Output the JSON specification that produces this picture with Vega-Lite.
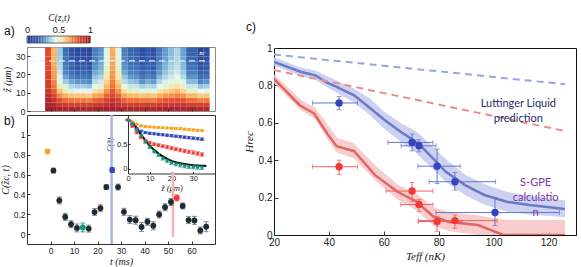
{
"$schema": "https://vega.github.io/schema/vega-lite/v6.json",
"padding": {"left": -1, "top": 12, "right": 2, "bottom": 0},
"config": {
 "font": "Liberation Sans",
 "view": {"stroke": "#333", "strokeWidth": 1},
 "axis": {"domain": false, "grid": false, "labelOverlap": false, "labelFlush": false, "labelFont": "Liberation Sans", "labelColor": "#222", "tickColor": "#333", "titleFont": "Liberation Serif", "titleFontStyle": "italic", "titleFontWeight": "normal", "titleColor": "#222", "labelFontSize": 8.5, "titleFontSize": 10},
 "title": {"font": "Liberation Sans", "fontWeight": "normal", "fontSize": 12, "color": "#111", "frame": "group"}
},
"datasets": {
 "cbar": [{"v":0.0125},{"v":0.0375},{"v":0.0625},{"v":0.0875},{"v":0.1125},{"v":0.1375},{"v":0.1625},{"v":0.1875},{"v":0.2125},{"v":0.2375},{"v":0.2625},{"v":0.2875},{"v":0.3125},{"v":0.3375},{"v":0.3625},{"v":0.3875},{"v":0.4125},{"v":0.4375},{"v":0.4625},{"v":0.4875},{"v":0.5125},{"v":0.5375},{"v":0.5625},{"v":0.5875},{"v":0.6125},{"v":0.6375},{"v":0.6625},{"v":0.6875},{"v":0.7125},{"v":0.7375},{"v":0.7625},{"v":0.7875},{"v":0.8125},{"v":0.8375},{"v":0.8625},{"v":0.8875},{"v":0.9125},{"v":0.9375},{"v":0.9625},{"v":0.9875}],
 "heat": [
{"t":-1.25,"z":1.25,"c":0.99},{"t":-1.25,"z":3.75,"c":0.97},{"t":-1.25,"z":6.25,"c":0.95},{"t":-1.25,"z":8.75,"c":0.93},{"t":-1.25,"z":11.25,"c":0.90},{"t":-1.25,"z":13.75,"c":0.88},{"t":-1.25,"z":16.25,"c":0.87},{"t":-1.25,"z":18.75,"c":0.86},{"t":-1.25,"z":21.25,"c":0.85},{"t":-1.25,"z":23.75,"c":0.84},{"t":-1.25,"z":26.25,"c":0.84},{"t":-1.25,"z":28.75,"c":0.84},{"t":-1.25,"z":31.25,"c":0.83},{"t":-1.25,"z":33.75,"c":0.83},
{"t":1.25,"z":1.25,"c":0.98},{"t":1.25,"z":3.75,"c":0.95},{"t":1.25,"z":6.25,"c":0.90},{"t":1.25,"z":8.75,"c":0.85},{"t":1.25,"z":11.25,"c":0.79},{"t":1.25,"z":13.75,"c":0.75},{"t":1.25,"z":16.25,"c":0.72},{"t":1.25,"z":18.75,"c":0.69},{"t":1.25,"z":21.25,"c":0.68},{"t":1.25,"z":23.75,"c":0.67},{"t":1.25,"z":26.25,"c":0.66},{"t":1.25,"z":28.75,"c":0.65},{"t":1.25,"z":31.25,"c":0.65},{"t":1.25,"z":33.75,"c":0.64},
{"t":3.75,"z":1.25,"c":0.97},{"t":3.75,"z":3.75,"c":0.90},{"t":3.75,"z":6.25,"c":0.82},{"t":3.75,"z":8.75,"c":0.72},{"t":3.75,"z":11.25,"c":0.62},{"t":3.75,"z":13.75,"c":0.54},{"t":3.75,"z":16.25,"c":0.49},{"t":3.75,"z":18.75,"c":0.44},{"t":3.75,"z":21.25,"c":0.41},{"t":3.75,"z":23.75,"c":0.39},{"t":3.75,"z":26.25,"c":0.37},{"t":3.75,"z":28.75,"c":0.36},{"t":3.75,"z":31.25,"c":0.35},{"t":3.75,"z":33.75,"c":0.35},
{"t":6.25,"z":1.25,"c":0.96},{"t":6.25,"z":3.75,"c":0.88},{"t":6.25,"z":6.25,"c":0.77},{"t":6.25,"z":8.75,"c":0.65},{"t":6.25,"z":11.25,"c":0.53},{"t":6.25,"z":13.75,"c":0.43},{"t":6.25,"z":16.25,"c":0.35},{"t":6.25,"z":18.75,"c":0.29},{"t":6.25,"z":21.25,"c":0.25},{"t":6.25,"z":23.75,"c":0.23},{"t":6.25,"z":26.25,"c":0.21},{"t":6.25,"z":28.75,"c":0.19},{"t":6.25,"z":31.25,"c":0.19},{"t":6.25,"z":33.75,"c":0.18},
{"t":8.75,"z":1.25,"c":0.96},{"t":8.75,"z":3.75,"c":0.87},{"t":8.75,"z":6.25,"c":0.75},{"t":8.75,"z":8.75,"c":0.62},{"t":8.75,"z":11.25,"c":0.49},{"t":8.75,"z":13.75,"c":0.38},{"t":8.75,"z":16.25,"c":0.30},{"t":8.75,"z":18.75,"c":0.24},{"t":8.75,"z":21.25,"c":0.19},{"t":8.75,"z":23.75,"c":0.16},{"t":8.75,"z":26.25,"c":0.15},{"t":8.75,"z":28.75,"c":0.13},{"t":8.75,"z":31.25,"c":0.12},{"t":8.75,"z":33.75,"c":0.11},
{"t":11.25,"z":1.25,"c":0.95},{"t":11.25,"z":3.75,"c":0.86},{"t":11.25,"z":6.25,"c":0.74},{"t":11.25,"z":8.75,"c":0.61},{"t":11.25,"z":11.25,"c":0.46},{"t":11.25,"z":13.75,"c":0.35},{"t":11.25,"z":16.25,"c":0.27},{"t":11.25,"z":18.75,"c":0.20},{"t":11.25,"z":21.25,"c":0.15},{"t":11.25,"z":23.75,"c":0.13},{"t":11.25,"z":26.25,"c":0.11},{"t":11.25,"z":28.75,"c":0.09},{"t":11.25,"z":31.25,"c":0.08},{"t":11.25,"z":33.75,"c":0.07},
{"t":13.75,"z":1.25,"c":0.95},{"t":13.75,"z":3.75,"c":0.86},{"t":13.75,"z":6.25,"c":0.74},{"t":13.75,"z":8.75,"c":0.61},{"t":13.75,"z":11.25,"c":0.47},{"t":13.75,"z":13.75,"c":0.36},{"t":13.75,"z":16.25,"c":0.27},{"t":13.75,"z":18.75,"c":0.21},{"t":13.75,"z":21.25,"c":0.16},{"t":13.75,"z":23.75,"c":0.14},{"t":13.75,"z":26.25,"c":0.12},{"t":13.75,"z":28.75,"c":0.10},{"t":13.75,"z":31.25,"c":0.09},{"t":13.75,"z":33.75,"c":0.08},
{"t":16.25,"z":1.25,"c":0.95},{"t":16.25,"z":3.75,"c":0.86},{"t":16.25,"z":6.25,"c":0.73},{"t":16.25,"z":8.75,"c":0.60},{"t":16.25,"z":11.25,"c":0.46},{"t":16.25,"z":13.75,"c":0.34},{"t":16.25,"z":16.25,"c":0.26},{"t":16.25,"z":18.75,"c":0.19},{"t":16.25,"z":21.25,"c":0.15},{"t":16.25,"z":23.75,"c":0.12},{"t":16.25,"z":26.25,"c":0.10},{"t":16.25,"z":28.75,"c":0.08},{"t":16.25,"z":31.25,"c":0.07},{"t":16.25,"z":33.75,"c":0.06},
{"t":18.75,"z":1.25,"c":0.96},{"t":18.75,"z":3.75,"c":0.88},{"t":18.75,"z":6.25,"c":0.78},{"t":18.75,"z":8.75,"c":0.67},{"t":18.75,"z":11.25,"c":0.56},{"t":18.75,"z":13.75,"c":0.46},{"t":18.75,"z":16.25,"c":0.39},{"t":18.75,"z":18.75,"c":0.34},{"t":18.75,"z":21.25,"c":0.30},{"t":18.75,"z":23.75,"c":0.27},{"t":18.75,"z":26.25,"c":0.26},{"t":18.75,"z":28.75,"c":0.24},{"t":18.75,"z":31.25,"c":0.24},{"t":18.75,"z":33.75,"c":0.23},
{"t":21.25,"z":1.25,"c":0.96},{"t":21.25,"z":3.75,"c":0.89},{"t":21.25,"z":6.25,"c":0.79},{"t":21.25,"z":8.75,"c":0.69},{"t":21.25,"z":11.25,"c":0.58},{"t":21.25,"z":13.75,"c":0.49},{"t":21.25,"z":16.25,"c":0.42},{"t":21.25,"z":18.75,"c":0.37},{"t":21.25,"z":21.25,"c":0.33},{"t":21.25,"z":23.75,"c":0.31},{"t":21.25,"z":26.25,"c":0.30},{"t":21.25,"z":28.75,"c":0.28},{"t":21.25,"z":31.25,"c":0.27},{"t":21.25,"z":33.75,"c":0.27},
{"t":23.75,"z":1.25,"c":0.97},{"t":23.75,"z":3.75,"c":0.92},{"t":23.75,"z":6.25,"c":0.85},{"t":23.75,"z":8.75,"c":0.78},{"t":23.75,"z":11.25,"c":0.70},{"t":23.75,"z":13.75,"c":0.63},{"t":23.75,"z":16.25,"c":0.59},{"t":23.75,"z":18.75,"c":0.55},{"t":23.75,"z":21.25,"c":0.52},{"t":23.75,"z":23.75,"c":0.51},{"t":23.75,"z":26.25,"c":0.50},{"t":23.75,"z":28.75,"c":0.49},{"t":23.75,"z":31.25,"c":0.48},{"t":23.75,"z":33.75,"c":0.48},
{"t":26.25,"z":1.25,"c":0.98},{"t":26.25,"z":3.75,"c":0.95},{"t":26.25,"z":6.25,"c":0.90},{"t":26.25,"z":8.75,"c":0.85},{"t":26.25,"z":11.25,"c":0.80},{"t":26.25,"z":13.75,"c":0.76},{"t":26.25,"z":16.25,"c":0.73},{"t":26.25,"z":18.75,"c":0.70},{"t":26.25,"z":21.25,"c":0.69},{"t":26.25,"z":23.75,"c":0.67},{"t":26.25,"z":26.25,"c":0.67},{"t":26.25,"z":28.75,"c":0.66},{"t":26.25,"z":31.25,"c":0.66},{"t":26.25,"z":33.75,"c":0.65},
{"t":28.75,"z":1.25,"c":0.97},{"t":28.75,"z":3.75,"c":0.92},{"t":28.75,"z":6.25,"c":0.85},{"t":28.75,"z":8.75,"c":0.78},{"t":28.75,"z":11.25,"c":0.70},{"t":28.75,"z":13.75,"c":0.63},{"t":28.75,"z":16.25,"c":0.59},{"t":28.75,"z":18.75,"c":0.55},{"t":28.75,"z":21.25,"c":0.52},{"t":28.75,"z":23.75,"c":0.51},{"t":28.75,"z":26.25,"c":0.50},{"t":28.75,"z":28.75,"c":0.49},{"t":28.75,"z":31.25,"c":0.48},{"t":28.75,"z":33.75,"c":0.48},
{"t":31.25,"z":1.25,"c":0.96},{"t":31.25,"z":3.75,"c":0.88},{"t":31.25,"z":6.25,"c":0.78},{"t":31.25,"z":8.75,"c":0.67},{"t":31.25,"z":11.25,"c":0.56},{"t":31.25,"z":13.75,"c":0.46},{"t":31.25,"z":16.25,"c":0.39},{"t":31.25,"z":18.75,"c":0.34},{"t":31.25,"z":21.25,"c":0.30},{"t":31.25,"z":23.75,"c":0.27},{"t":31.25,"z":26.25,"c":0.26},{"t":31.25,"z":28.75,"c":0.24},{"t":31.25,"z":31.25,"c":0.24},{"t":31.25,"z":33.75,"c":0.23},
{"t":33.75,"z":1.25,"c":0.96},{"t":33.75,"z":3.75,"c":0.87},{"t":33.75,"z":6.25,"c":0.76},{"t":33.75,"z":8.75,"c":0.64},{"t":33.75,"z":11.25,"c":0.52},{"t":33.75,"z":13.75,"c":0.41},{"t":33.75,"z":16.25,"c":0.34},{"t":33.75,"z":18.75,"c":0.28},{"t":33.75,"z":21.25,"c":0.24},{"t":33.75,"z":23.75,"c":0.21},{"t":33.75,"z":26.25,"c":0.19},{"t":33.75,"z":28.75,"c":0.18},{"t":33.75,"z":31.25,"c":0.17},{"t":33.75,"z":33.75,"c":0.16},
{"t":36.25,"z":1.25,"c":0.96},{"t":36.25,"z":3.75,"c":0.87},{"t":36.25,"z":6.25,"c":0.76},{"t":36.25,"z":8.75,"c":0.64},{"t":36.25,"z":11.25,"c":0.51},{"t":36.25,"z":13.75,"c":0.41},{"t":36.25,"z":16.25,"c":0.33},{"t":36.25,"z":18.75,"c":0.27},{"t":36.25,"z":21.25,"c":0.23},{"t":36.25,"z":23.75,"c":0.20},{"t":36.25,"z":26.25,"c":0.18},{"t":36.25,"z":28.75,"c":0.17},{"t":36.25,"z":31.25,"c":0.16},{"t":36.25,"z":33.75,"c":0.15},
{"t":38.75,"z":1.25,"c":0.95},{"t":38.75,"z":3.75,"c":0.86},{"t":38.75,"z":6.25,"c":0.74},{"t":38.75,"z":8.75,"c":0.61},{"t":38.75,"z":11.25,"c":0.47},{"t":38.75,"z":13.75,"c":0.36},{"t":38.75,"z":16.25,"c":0.27},{"t":38.75,"z":18.75,"c":0.21},{"t":38.75,"z":21.25,"c":0.16},{"t":38.75,"z":23.75,"c":0.14},{"t":38.75,"z":26.25,"c":0.12},{"t":38.75,"z":28.75,"c":0.10},{"t":38.75,"z":31.25,"c":0.09},{"t":38.75,"z":33.75,"c":0.08},
{"t":41.25,"z":1.25,"c":0.96},{"t":41.25,"z":3.75,"c":0.87},{"t":41.25,"z":6.25,"c":0.75},{"t":41.25,"z":8.75,"c":0.63},{"t":41.25,"z":11.25,"c":0.50},{"t":41.25,"z":13.75,"c":0.39},{"t":41.25,"z":16.25,"c":0.31},{"t":41.25,"z":18.75,"c":0.25},{"t":41.25,"z":21.25,"c":0.21},{"t":41.25,"z":23.75,"c":0.18},{"t":41.25,"z":26.25,"c":0.16},{"t":41.25,"z":28.75,"c":0.15},{"t":41.25,"z":31.25,"c":0.14},{"t":41.25,"z":33.75,"c":0.13},
{"t":43.75,"z":1.25,"c":0.95},{"t":43.75,"z":3.75,"c":0.86},{"t":43.75,"z":6.25,"c":0.74},{"t":43.75,"z":8.75,"c":0.61},{"t":43.75,"z":11.25,"c":0.48},{"t":43.75,"z":13.75,"c":0.37},{"t":43.75,"z":16.25,"c":0.28},{"t":43.75,"z":18.75,"c":0.22},{"t":43.75,"z":21.25,"c":0.17},{"t":43.75,"z":23.75,"c":0.14},{"t":43.75,"z":26.25,"c":0.13},{"t":43.75,"z":28.75,"c":0.11},{"t":43.75,"z":31.25,"c":0.10},{"t":43.75,"z":33.75,"c":0.09},
{"t":46.25,"z":1.25,"c":0.96},{"t":46.25,"z":3.75,"c":0.88},{"t":46.25,"z":6.25,"c":0.78},{"t":46.25,"z":8.75,"c":0.66},{"t":46.25,"z":11.25,"c":0.54},{"t":46.25,"z":13.75,"c":0.45},{"t":46.25,"z":16.25,"c":0.38},{"t":46.25,"z":18.75,"c":0.32},{"t":46.25,"z":21.25,"c":0.28},{"t":46.25,"z":23.75,"c":0.26},{"t":46.25,"z":26.25,"c":0.24},{"t":46.25,"z":28.75,"c":0.22},{"t":46.25,"z":31.25,"c":0.22},{"t":46.25,"z":33.75,"c":0.21},
{"t":48.75,"z":1.25,"c":0.96},{"t":48.75,"z":3.75,"c":0.89},{"t":48.75,"z":6.25,"c":0.80},{"t":48.75,"z":8.75,"c":0.69},{"t":48.75,"z":11.25,"c":0.58},{"t":48.75,"z":13.75,"c":0.50},{"t":48.75,"z":16.25,"c":0.43},{"t":48.75,"z":18.75,"c":0.38},{"t":48.75,"z":21.25,"c":0.34},{"t":48.75,"z":23.75,"c":0.32},{"t":48.75,"z":26.25,"c":0.31},{"t":48.75,"z":28.75,"c":0.29},{"t":48.75,"z":31.25,"c":0.28},{"t":48.75,"z":33.75,"c":0.28},
{"t":51.25,"z":1.25,"c":0.97},{"t":51.25,"z":3.75,"c":0.90},{"t":51.25,"z":6.25,"c":0.81},{"t":51.25,"z":8.75,"c":0.71},{"t":51.25,"z":11.25,"c":0.61},{"t":51.25,"z":13.75,"c":0.53},{"t":51.25,"z":16.25,"c":0.47},{"t":51.25,"z":18.75,"c":0.42},{"t":51.25,"z":21.25,"c":0.39},{"t":51.25,"z":23.75,"c":0.37},{"t":51.25,"z":26.25,"c":0.35},{"t":51.25,"z":28.75,"c":0.34},{"t":51.25,"z":31.25,"c":0.33},{"t":51.25,"z":33.75,"c":0.33},
{"t":53.75,"z":1.25,"c":0.97},{"t":53.75,"z":3.75,"c":0.90},{"t":53.75,"z":6.25,"c":0.82},{"t":53.75,"z":8.75,"c":0.73},{"t":53.75,"z":11.25,"c":0.64},{"t":53.75,"z":13.75,"c":0.56},{"t":53.75,"z":16.25,"c":0.50},{"t":53.75,"z":18.75,"c":0.46},{"t":53.75,"z":21.25,"c":0.42},{"t":53.75,"z":23.75,"c":0.40},{"t":53.75,"z":26.25,"c":0.39},{"t":53.75,"z":28.75,"c":0.38},{"t":53.75,"z":31.25,"c":0.37},{"t":53.75,"z":33.75,"c":0.37},
{"t":56.25,"z":1.25,"c":0.96},{"t":56.25,"z":3.75,"c":0.89},{"t":56.25,"z":6.25,"c":0.80},{"t":56.25,"z":8.75,"c":0.70},{"t":56.25,"z":11.25,"c":0.59},{"t":56.25,"z":13.75,"c":0.50},{"t":56.25,"z":16.25,"c":0.44},{"t":56.25,"z":18.75,"c":0.39},{"t":56.25,"z":21.25,"c":0.35},{"t":56.25,"z":23.75,"c":0.33},{"t":56.25,"z":26.25,"c":0.32},{"t":56.25,"z":28.75,"c":0.30},{"t":56.25,"z":31.25,"c":0.29},{"t":56.25,"z":33.75,"c":0.29},
{"t":58.75,"z":1.25,"c":0.96},{"t":58.75,"z":3.75,"c":0.87},{"t":58.75,"z":6.25,"c":0.76},{"t":58.75,"z":8.75,"c":0.64},{"t":58.75,"z":11.25,"c":0.51},{"t":58.75,"z":13.75,"c":0.41},{"t":58.75,"z":16.25,"c":0.33},{"t":58.75,"z":18.75,"c":0.27},{"t":58.75,"z":21.25,"c":0.23},{"t":58.75,"z":23.75,"c":0.20},{"t":58.75,"z":26.25,"c":0.18},{"t":58.75,"z":28.75,"c":0.17},{"t":58.75,"z":31.25,"c":0.16},{"t":58.75,"z":33.75,"c":0.15},
{"t":61.25,"z":1.25,"c":0.96},{"t":61.25,"z":3.75,"c":0.87},{"t":61.25,"z":6.25,"c":0.76},{"t":61.25,"z":8.75,"c":0.64},{"t":61.25,"z":11.25,"c":0.51},{"t":61.25,"z":13.75,"c":0.41},{"t":61.25,"z":16.25,"c":0.33},{"t":61.25,"z":18.75,"c":0.27},{"t":61.25,"z":21.25,"c":0.23},{"t":61.25,"z":23.75,"c":0.20},{"t":61.25,"z":26.25,"c":0.18},{"t":61.25,"z":28.75,"c":0.17},{"t":61.25,"z":31.25,"c":0.16},{"t":61.25,"z":33.75,"c":0.15},
{"t":63.75,"z":1.25,"c":0.95},{"t":63.75,"z":3.75,"c":0.86},{"t":63.75,"z":6.25,"c":0.73},{"t":63.75,"z":8.75,"c":0.60},{"t":63.75,"z":11.25,"c":0.45},{"t":63.75,"z":13.75,"c":0.34},{"t":63.75,"z":16.25,"c":0.25},{"t":63.75,"z":18.75,"c":0.18},{"t":63.75,"z":21.25,"c":0.14},{"t":63.75,"z":23.75,"c":0.11},{"t":63.75,"z":26.25,"c":0.09},{"t":63.75,"z":28.75,"c":0.07},{"t":63.75,"z":31.25,"c":0.06},{"t":63.75,"z":33.75,"c":0.05},
{"t":66.25,"z":1.25,"c":0.95},{"t":66.25,"z":3.75,"c":0.86},{"t":66.25,"z":6.25,"c":0.74},{"t":66.25,"z":8.75,"c":0.61},{"t":66.25,"z":11.25,"c":0.47},{"t":66.25,"z":13.75,"c":0.36},{"t":66.25,"z":16.25,"c":0.27},{"t":66.25,"z":18.75,"c":0.21},{"t":66.25,"z":21.25,"c":0.16},{"t":66.25,"z":23.75,"c":0.14},{"t":66.25,"z":26.25,"c":0.12},{"t":66.25,"z":28.75,"c":0.10},{"t":66.25,"z":31.25,"c":0.09},{"t":66.25,"z":33.75,"c":0.08}
 ],
 "bpts": [
{"t":-1.25,"c":0.834,"e":0.012,"g":"o"},{"t":1.25,"c":0.64,"e":0.025,"g":"k"},{"t":3.75,"c":0.339,"e":0.035,"g":"k"},{"t":6.25,"c":0.173,"e":0.035,"g":"k"},{"t":8.75,"c":0.099,"e":0.035,"g":"k"},{"t":11.25,"c":0.062,"e":0.04,"g":"k"},{"t":13.75,"c":0.067,"e":0.045,"g":"t"},{"t":16.25,"c":0.055,"e":0.035,"g":"k"},{"t":18.75,"c":0.222,"e":0.035,"g":"k"},{"t":21.25,"c":0.261,"e":0.035,"g":"k"},{"t":23.75,"c":0.474,"e":0.025,"g":"k"},{"t":26.25,"c":0.646,"e":0.025,"g":"b"},{"t":28.75,"c":0.474,"e":0.03,"g":"k"},{"t":31.25,"c":0.224,"e":0.035,"g":"k"},{"t":33.75,"c":0.146,"e":0.04,"g":"k"},{"t":36.25,"c":0.14,"e":0.04,"g":"k"},{"t":38.75,"c":0.071,"e":0.045,"g":"k"},{"t":41.25,"c":0.124,"e":0.035,"g":"k"},{"t":43.75,"c":0.084,"e":0.04,"g":"k"},{"t":46.25,"c":0.197,"e":0.035,"g":"k"},{"t":48.75,"c":0.27,"e":0.035,"g":"k"},{"t":51.25,"c":0.323,"e":0.035,"g":"k"},{"t":53.75,"c":0.365,"e":0.03,"g":"r"},{"t":56.25,"c":0.283,"e":0.03,"g":"k"},{"t":58.75,"c":0.141,"e":0.035,"g":"k"},{"t":61.25,"c":0.138,"e":0.04,"g":"k"},{"t":63.75,"c":0.037,"e":0.035,"g":"k"},{"t":66.25,"c":0.074,"e":0.05,"g":"k"}
 ],
 "inset": [
{"z":0,"v":1.0,"e":0.01,"g":"o"},{"z":2,"v":0.96,"e":0.012,"g":"o"},{"z":4,"v":0.91,"e":0.012,"g":"o"},{"z":6,"v":0.88,"e":0.014,"g":"o"},{"z":8,"v":0.865,"e":0.015,"g":"o"},{"z":10,"v":0.855,"e":0.015,"g":"o"},{"z":12,"v":0.85,"e":0.015,"g":"o"},{"z":14,"v":0.845,"e":0.016,"g":"o"},{"z":16,"v":0.84,"e":0.016,"g":"o"},{"z":18,"v":0.835,"e":0.017,"g":"o"},{"z":20,"v":0.83,"e":0.017,"g":"o"},{"z":22,"v":0.825,"e":0.018,"g":"o"},{"z":24,"v":0.82,"e":0.018,"g":"o"},{"z":26,"v":0.81,"e":0.019,"g":"o"},{"z":28,"v":0.80,"e":0.02,"g":"o"},{"z":30,"v":0.795,"e":0.02,"g":"o"},{"z":32,"v":0.785,"e":0.02,"g":"o"},{"z":34,"v":0.78,"e":0.02,"g":"o"},
{"z":0,"v":1.0,"e":0.01,"g":"b"},{"z":2,"v":0.91,"e":0.015,"g":"b"},{"z":4,"v":0.82,"e":0.015,"g":"b"},{"z":6,"v":0.77,"e":0.018,"g":"b"},{"z":8,"v":0.74,"e":0.018,"g":"b"},{"z":10,"v":0.725,"e":0.02,"g":"b"},{"z":12,"v":0.715,"e":0.02,"g":"b"},{"z":14,"v":0.705,"e":0.02,"g":"b"},{"z":16,"v":0.695,"e":0.02,"g":"b"},{"z":18,"v":0.685,"e":0.022,"g":"b"},{"z":20,"v":0.675,"e":0.022,"g":"b"},{"z":22,"v":0.665,"e":0.022,"g":"b"},{"z":24,"v":0.655,"e":0.024,"g":"b"},{"z":26,"v":0.645,"e":0.024,"g":"b"},{"z":28,"v":0.635,"e":0.025,"g":"b"},{"z":30,"v":0.625,"e":0.025,"g":"b"},{"z":32,"v":0.615,"e":0.025,"g":"b"},{"z":34,"v":0.605,"e":0.025,"g":"b"},
{"z":0,"v":1.0,"e":0.01,"g":"r"},{"z":2,"v":0.87,"e":0.02,"g":"r"},{"z":4,"v":0.74,"e":0.025,"g":"r"},{"z":6,"v":0.64,"e":0.025,"g":"r"},{"z":8,"v":0.57,"e":0.028,"g":"r"},{"z":10,"v":0.53,"e":0.028,"g":"r"},{"z":12,"v":0.50,"e":0.03,"g":"r"},{"z":14,"v":0.48,"e":0.03,"g":"r"},{"z":16,"v":0.46,"e":0.03,"g":"r"},{"z":18,"v":0.44,"e":0.032,"g":"r"},{"z":20,"v":0.42,"e":0.032,"g":"r"},{"z":22,"v":0.40,"e":0.034,"g":"r"},{"z":24,"v":0.38,"e":0.034,"g":"r"},{"z":26,"v":0.36,"e":0.035,"g":"r"},{"z":28,"v":0.345,"e":0.035,"g":"r"},{"z":30,"v":0.33,"e":0.036,"g":"r"},{"z":32,"v":0.31,"e":0.036,"g":"r"},{"z":34,"v":0.29,"e":0.036,"g":"r"},
{"z":0,"v":1.0,"e":0.01,"g":"t"},{"z":2,"v":0.93,"e":0.02,"g":"t"},{"z":4,"v":0.80,"e":0.025,"g":"t"},{"z":6,"v":0.67,"e":0.028,"g":"t"},{"z":8,"v":0.55,"e":0.03,"g":"t"},{"z":10,"v":0.44,"e":0.03,"g":"t"},{"z":12,"v":0.35,"e":0.032,"g":"t"},{"z":14,"v":0.28,"e":0.032,"g":"t"},{"z":16,"v":0.21,"e":0.034,"g":"t"},{"z":18,"v":0.16,"e":0.034,"g":"t"},{"z":20,"v":0.12,"e":0.035,"g":"t"},{"z":22,"v":0.09,"e":0.035,"g":"t"},{"z":24,"v":0.07,"e":0.036,"g":"t"},{"z":26,"v":0.05,"e":0.036,"g":"t"},{"z":28,"v":0.04,"e":0.036,"g":"t"},{"z":30,"v":0.03,"e":0.036,"g":"t"},{"z":32,"v":0.025,"e":0.036,"g":"t"},{"z":34,"v":0.02,"e":0.036,"g":"t"}
 ],
 "black": [{"z":0,"v":1},{"z":2,"v":0.95},{"z":4,"v":0.83},{"z":6,"v":0.70},{"z":8,"v":0.58},{"z":10,"v":0.47},{"z":12,"v":0.385},{"z":14,"v":0.31},{"z":16,"v":0.25},{"z":18,"v":0.20},{"z":20,"v":0.16},{"z":22,"v":0.13},{"z":24,"v":0.11},{"z":26,"v":0.095},{"z":28,"v":0.08},{"z":30,"v":0.07},{"z":32,"v":0.065},{"z":34,"v":0.06},{"z":36,"v":0.055}],
 "bandB": [{"T":20,"lo":0.905,"hi":0.95},{"T":30,"lo":0.85,"hi":0.895},{"T":35,"lo":0.83,"hi":0.88},{"T":40,"lo":0.785,"hi":0.845},{"T":43,"lo":0.76,"hi":0.825},{"T":49,"lo":0.71,"hi":0.785},{"T":55,"lo":0.64,"hi":0.73},{"T":60,"lo":0.57,"hi":0.66},{"T":66,"lo":0.50,"hi":0.60},{"T":71,"lo":0.45,"hi":0.56},{"T":73,"lo":0.42,"hi":0.54},{"T":78,"lo":0.35,"hi":0.47},{"T":83,"lo":0.28,"hi":0.40},{"T":90,"lo":0.21,"hi":0.32},{"T":97,"lo":0.16,"hi":0.27},{"T":105,"lo":0.125,"hi":0.23},{"T":113,"lo":0.11,"hi":0.21},{"T":126,"lo":0.095,"hi":0.185}],
 "bandR": [{"T":20,"lo":0.81,"hi":0.86},{"T":30,"lo":0.665,"hi":0.72},{"T":35,"lo":0.62,"hi":0.68},{"T":40,"lo":0.50,"hi":0.58},{"T":43,"lo":0.44,"hi":0.52},{"T":49,"lo":0.41,"hi":0.49},{"T":57,"lo":0.29,"hi":0.37},{"T":65,"lo":0.19,"hi":0.27},{"T":72,"lo":0.13,"hi":0.22},{"T":78,"lo":0.05,"hi":0.15},{"T":84,"lo":0.02,"hi":0.12},{"T":94,"lo":0.0,"hi":0.105},{"T":100,"lo":0.0,"hi":0.09},{"T":104,"lo":0.0,"hi":0.08},{"T":126,"lo":0.0,"hi":0.08}],
 "lineB": [{"T":20,"H":0.925},{"T":30,"H":0.872},{"T":35,"H":0.854},{"T":39.3,"H":0.815},{"T":42.8,"H":0.792},{"T":49.2,"H":0.747},{"T":54.5,"H":0.685},{"T":60.4,"H":0.614},{"T":66.2,"H":0.551},{"T":70.9,"H":0.507},{"T":73.2,"H":0.48},{"T":77.9,"H":0.41},{"T":82.6,"H":0.338},{"T":89.6,"H":0.267},{"T":96.6,"H":0.214},{"T":104.8,"H":0.178},{"T":113,"H":0.16},{"T":126,"H":0.139}],
 "lineR": [{"T":20,"H":0.835},{"T":29.4,"H":0.694},{"T":34.6,"H":0.65},{"T":39.5,"H":0.54},{"T":42.8,"H":0.475},{"T":49.2,"H":0.448},{"T":56.8,"H":0.32},{"T":65,"H":0.231},{"T":72,"H":0.178},{"T":77.9,"H":0.1},{"T":83.7,"H":0.07},{"T":94.3,"H":0.053},{"T":103.6,"H":0.0},{"T":126,"H":0.0}],
 "dash": [{"T":20,"H":0.965,"s":"b"},{"T":126,"H":0.806,"s":"b"},{"T":20,"H":0.882,"s":"r"},{"T":126,"H":0.556,"s":"r"}],
 "ptsC": [
{"T":43.7,"H":0.706,"xlo":34,"xhi":50.4,"ylo":0.67,"yhi":0.74,"s":"b"},
{"T":70.3,"H":0.495,"xlo":61.5,"xhi":77.9,"ylo":0.45,"yhi":0.54,"s":"b"},
{"T":72.8,"H":0.477,"xlo":66.3,"xhi":79,"ylo":0.445,"yhi":0.51,"s":"b"},
{"T":79.4,"H":0.368,"xlo":72.4,"xhi":87.8,"ylo":0.275,"yhi":0.46,"s":"b"},
{"T":85.9,"H":0.285,"xlo":76.5,"xhi":100.7,"ylo":0.24,"yhi":0.335,"s":"b"},
{"T":100.5,"H":0.12,"xlo":79,"xhi":124,"ylo":0.05,"yhi":0.2,"s":"b"},
{"T":43.7,"H":0.365,"xlo":34,"xhi":50.4,"ylo":0.324,"yhi":0.40,"s":"r"},
{"T":70.3,"H":0.235,"xlo":60.8,"xhi":77.9,"ylo":0.178,"yhi":0.281,"s":"r"},
{"T":72.8,"H":0.163,"xlo":66.2,"xhi":77.9,"ylo":0.125,"yhi":0.19,"s":"r"},
{"T":79.4,"H":0.072,"xlo":72.5,"xhi":88.5,"ylo":0.02,"yhi":0.1,"s":"r"},
{"T":85.9,"H":0.077,"xlo":72.7,"xhi":101.3,"ylo":0.036,"yhi":0.107,"s":"r"}
 ]
},
"bounds": "flush",
"spacing": 247,
"hconcat": [
 {"bounds": "flush", "spacing": 4, "vconcat": [
  {"width": 188, "height": 7,
   "view": {"stroke": null},
   "layer": [
    {"data": {"name": "cbar"},
     "mark": "rect",
     "encoding": {
      "x": {"field": "v", "type": "quantitative", "bin": {"step": 0.025, "extent": [0, 1]}, "scale": {"domain": [0, 1], "range": [0, 63]},
            "axis": {"orient": "top", "values": [0, 0.5, 1], "ticks": false, "labelOverlap": false, "labelFontSize": 9, "labelPadding": 2, "format": "~f", "title": "C(z,t)", "titleFontSize": 9.5, "titlePadding": 3}},
      "color": {"field": "v", "type": "quantitative", "scale": {"domain": [0, 0.12, 0.25, 0.35, 0.45, 0.55, 0.65, 0.8, 1], "range": ["#27368f", "#3156a6", "#4f86c2", "#9ccbe4", "#eef4f2", "#fde5a6", "#fbb060", "#e8532f", "#a2182b"]}, "legend": null}
     }},
    {"data": {"values": [{}]},
     "mark": {"type": "rect", "fill": null, "stroke": "#444", "strokeWidth": 0.8},
     "encoding": {"x": {"datum": 0}, "x2": {"datum": 1}}}
   ]},
  {"width": 188, "height": 64,
   "title": {"text": "a)", "anchor": "start", "dx": -23, "offset": 9},
   "view": {"stroke": "#8a8a8a"},
   "layer": [
    {"data": {"name": "heat"},
     "mark": {"type": "rect", "clip": true},
     "encoding": {
      "x": {"field": "t", "type": "quantitative", "bin": {"step": 2.5, "extent": [-2.5, 67.5]}, "scale": {"domain": [-1.8, 67.5]},
            "axis": {"values": [0, 10, 20, 30, 40, 50, 60], "labels": false, "tickSize": -3, "title": null, "zindex": 1}},
      "y": {"field": "z", "type": "quantitative", "bin": {"step": 2.5, "extent": [0, 35]}, "scale": {"domain": [0, 35]},
            "axis": {"values": [0, 10, 20, 30], "labelOverlap": false, "format": "d", "tickSize": -3, "labelPadding": 5, "title": "z̃ (μm)", "titlePadding": 3, "zindex": 1}},
      "color": {"field": "c", "type": "quantitative", "scale": {"domain": [0, 0.12, 0.25, 0.35, 0.45, 0.55, 0.65, 0.8, 1], "range": ["#27368f", "#3156a6", "#4f86c2", "#9ccbe4", "#eef4f2", "#fde5a6", "#fbb060", "#e8532f", "#a2182b"]}, "legend": null}
     }},
    {"data": {"values": [{}]},
     "mark": {"type": "rule", "color": "#e4eaf4", "strokeDash": [6, 4], "strokeWidth": 1.3},
     "encoding": {"y": {"datum": 27.4}}},
    {"data": {"values": [{}]},
     "mark": {"type": "text", "color": "#ffffff", "fontSize": 7, "font": "Liberation Serif", "fontStyle": "italic"},
     "encoding": {"x": {"datum": 64.5}, "y": {"datum": 31.5}, "text": {"value": "z̃c"}}}
   ]},
  {"width": 188, "height": 129,
   "title": {"text": "b)", "anchor": "start", "dx": -23, "dy": 14, "offset": 0},
   "resolve": {"scale": {"x": "independent", "y": "independent"}, "axis": {"x": "independent", "y": "independent"}},
   "layer": [
    {"layer": [
      {"data": {"values": [{}]},
       "mark": {"type": "rule", "color": "#aab4e8", "strokeWidth": 2.5},
       "encoding": {"x": {"datum": 26, "type": "quantitative", "scale": {"domain": [-1.8, 67.5]}, "axis": {"values": [0, 10, 20, 30, 40, 50, 60], "labelOverlap": false, "format": "d", "tickSize": -3, "labelPadding": 5, "title": "t (ms)", "titlePadding": 2}}}},
      {"data": {"values": [{}]},
       "mark": {"type": "rule", "color": "#f5b3b3", "strokeWidth": 2.5},
       "encoding": {"x": {"datum": 52.1, "type": "quantitative", "axis": {"values": [0, 10, 20, 30, 40, 50, 60], "labelOverlap": false, "format": "d", "tickSize": -3, "labelPadding": 5, "title": "t (ms)", "titlePadding": 2}},
                    "y": {"datum": -0.03, "type": "quantitative", "scale": {"domain": [-0.03, 1.163]}, "axis": {"values": [0, 0.2, 0.4, 0.6, 0.8, 1], "labelOverlap": false, "format": "~f", "tickSize": -3, "labelPadding": 5, "title": "C(z̃c, t)", "titlePadding": 3}},
                    "y2": {"datum": 0.62}}},
      {"data": {"name": "bpts"},
       "mark": {"type": "errorbar", "ticks": true, "thickness": 1.1},
       "encoding": {
        "x": {"field": "t", "type": "quantitative", "axis": {"values": [0, 10, 20, 30, 40, 50, 60], "labelOverlap": false, "format": "d", "tickSize": -3, "labelPadding": 5, "title": "t (ms)", "titlePadding": 2}},
        "y": {"field": "c", "type": "quantitative", "axis": {"values": [0, 0.2, 0.4, 0.6, 0.8, 1], "labelOverlap": false, "format": "~f", "tickSize": -3, "labelPadding": 5, "title": "C(z̃c, t)", "titlePadding": 3}},
        "yError": {"field": "e"},
        "color": {"field": "g", "type": "nominal", "scale": {"domain": ["k", "o", "t", "b", "r"], "range": ["#5f696f", "#f7a21b", "#15967f", "#3346c0", "#ee3b36"]}, "legend": null}}},
      {"data": {"name": "bpts"},
       "mark": {"type": "circle", "size": 34, "opacity": 1},
       "encoding": {
        "x": {"field": "t", "type": "quantitative", "axis": {"values": [0, 10, 20, 30, 40, 50, 60], "labelOverlap": false, "format": "d", "tickSize": -3, "labelPadding": 5, "title": "t (ms)", "titlePadding": 2}},
        "y": {"field": "c", "type": "quantitative", "axis": {"values": [0, 0.2, 0.4, 0.6, 0.8, 1], "labelOverlap": false, "format": "~f", "tickSize": -3, "labelPadding": 5, "title": "C(z̃c, t)", "titlePadding": 3}},
        "fill": {"field": "g", "type": "nominal", "scale": {"domain": ["k", "o", "t", "b", "r"], "range": ["#1f2b33", "#f7a21b", "#15967f", "#3346c0", "#ee3b36"]}, "legend": null}}}
    ]},
    {"layer": [
      {"data": {"name": "black"},
       "mark": {"type": "line", "color": "#000000", "strokeWidth": 2, "interpolate": "monotone", "clip": true},
       "encoding": {
        "x": {"field": "z", "type": "quantitative", "scale": {"domain": [0, 35.9], "range": [101, 188]},
              "axis": {"orient": "bottom", "offset": -70.5, "values": [0, 10, 20, 30], "labelOverlap": false, "format": "d", "domain": true, "domainColor": "#333", "tickSize": -2, "labelPadding": 3, "labelFontSize": 7.5, "title": "z̃ (μm)", "titleFontSize": 8.5, "titlePadding": 1}},
        "y": {"field": "v", "type": "quantitative", "scale": {"domain": [-0.033, 1.035], "range": [58.5, 0]},
              "axis": {"orient": "left", "offset": -101, "values": [0, 0.5], "labelOverlap": false, "format": "~f", "domain": true, "domainColor": "#333", "tickSize": -2, "labelPadding": 3, "labelFontSize": 7.5, "title": "C(z̃)", "titleFontSize": 8.5, "titlePadding": 2}}}},
      {"data": {"name": "inset"},
       "mark": {"type": "errorbar", "ticks": true, "thickness": 0.8},
       "encoding": {
        "x": {"field": "z", "type": "quantitative", "axis": {"orient": "bottom", "offset": -70.5, "values": [0, 10, 20, 30], "labelOverlap": false, "format": "d", "domain": true, "domainColor": "#333", "tickSize": -2, "labelPadding": 3, "labelFontSize": 7.5, "title": "z̃ (μm)", "titleFontSize": 8.5, "titlePadding": 1}},
        "y": {"field": "v", "type": "quantitative", "axis": {"orient": "left", "offset": -101, "values": [0, 0.5], "labelOverlap": false, "format": "~f", "domain": true, "domainColor": "#333", "tickSize": -2, "labelPadding": 3, "labelFontSize": 7.5, "title": "C(z̃)", "titleFontSize": 8.5, "titlePadding": 2}},
        "yError": {"field": "e"},
        "color": {"field": "g", "type": "nominal", "scale": {"domain": ["k", "o", "t", "b", "r"], "range": ["#5f696f", "#f7a21b", "#15967f", "#3346c0", "#ee3b36"]}, "legend": null}}},
      {"data": {"name": "inset"},
       "mark": {"type": "circle", "size": 11, "opacity": 1},
       "encoding": {
        "x": {"field": "z", "type": "quantitative", "axis": {"orient": "bottom", "offset": -70.5, "values": [0, 10, 20, 30], "labelOverlap": false, "format": "d", "domain": true, "domainColor": "#333", "tickSize": -2, "labelPadding": 3, "labelFontSize": 7.5, "title": "z̃ (μm)", "titleFontSize": 8.5, "titlePadding": 1}},
        "y": {"field": "v", "type": "quantitative", "axis": {"orient": "left", "offset": -101, "values": [0, 0.5], "labelOverlap": false, "format": "~f", "domain": true, "domainColor": "#333", "tickSize": -2, "labelPadding": 3, "labelFontSize": 7.5, "title": "C(z̃)", "titleFontSize": 8.5, "titlePadding": 2}},
        "fill": {"field": "g", "type": "nominal", "scale": {"domain": ["k", "o", "t", "b", "r"], "range": ["#1f2b33", "#f7a21b", "#15967f", "#3346c0", "#ee3b36"]}, "legend": null}}}
    ]}
   ]}
 ]},
 {"bounds": "flush", "spacing": 11, "vconcat": [
  {"width": 302, "height": 1, "view": {"stroke": null},
   "data": {"values": []}, "mark": "text", "encoding": {}},
  {"width": 302, "height": 187,
   "title": {"text": "c)", "anchor": "start", "dx": -28, "offset": 9},
   "view": {"stroke": "#111"},
   "layer": [
    {"data": {"name": "bandB"},
     "mark": {"type": "area", "color": "#c4caee", "opacity": 0.85, "clip": true},
     "encoding": {
      "x": {"field": "T", "type": "quantitative", "scale": {"domain": [20, 126]},
            "axis": {"values": [20, 40, 60, 80, 100, 120], "labelOverlap": false, "format": "d", "tickSize": -4, "labelPadding": 6, "labelFontSize": 10, "title": "Teff (nK)", "titleFontSize": 11, "titlePadding": 3}},
      "y": {"field": "lo", "type": "quantitative", "scale": {"domain": [0, 1]},
            "axis": {"values": [0, 0.2, 0.4, 0.6, 0.8, 1], "labelOverlap": false, "format": "~f", "tickSize": -4, "labelPadding": 6, "labelFontSize": 10, "title": "Hrec", "titleFontSize": 11, "titlePadding": 4}},
      "y2": {"field": "hi"}}},
    {"data": {"name": "bandR"},
     "mark": {"type": "area", "color": "#f6c0c0", "opacity": 0.8, "clip": true},
     "encoding": {
      "x": {"field": "T", "type": "quantitative", "axis": {"values": [20, 40, 60, 80, 100, 120], "labelOverlap": false, "format": "d", "tickSize": -4, "labelPadding": 6, "labelFontSize": 10, "title": "Teff (nK)", "titleFontSize": 11, "titlePadding": 3}},
      "y": {"field": "lo", "type": "quantitative", "axis": {"values": [0, 0.2, 0.4, 0.6, 0.8, 1], "labelOverlap": false, "format": "~f", "tickSize": -4, "labelPadding": 6, "labelFontSize": 10, "title": "Hrec", "titleFontSize": 11, "titlePadding": 4}},
      "y2": {"field": "hi"}}},
    {"data": {"name": "lineB"},
     "mark": {"type": "line", "color": "#6b79c8", "strokeWidth": 2.5, "clip": true},
     "encoding": {
      "x": {"field": "T", "type": "quantitative", "axis": {"values": [20, 40, 60, 80, 100, 120], "labelOverlap": false, "format": "d", "tickSize": -4, "labelPadding": 6, "labelFontSize": 10, "title": "Teff (nK)", "titleFontSize": 11, "titlePadding": 3}},
      "y": {"field": "H", "type": "quantitative", "axis": {"values": [0, 0.2, 0.4, 0.6, 0.8, 1], "labelOverlap": false, "format": "~f", "tickSize": -4, "labelPadding": 6, "labelFontSize": 10, "title": "Hrec", "titleFontSize": 11, "titlePadding": 4}}}},
    {"data": {"name": "lineR"},
     "mark": {"type": "line", "color": "#e26666", "strokeWidth": 2.5, "clip": true},
     "encoding": {
      "x": {"field": "T", "type": "quantitative", "axis": {"values": [20, 40, 60, 80, 100, 120], "labelOverlap": false, "format": "d", "tickSize": -4, "labelPadding": 6, "labelFontSize": 10, "title": "Teff (nK)", "titleFontSize": 11, "titlePadding": 3}},
      "y": {"field": "H", "type": "quantitative", "axis": {"values": [0, 0.2, 0.4, 0.6, 0.8, 1], "labelOverlap": false, "format": "~f", "tickSize": -4, "labelPadding": 6, "labelFontSize": 10, "title": "Hrec", "titleFontSize": 11, "titlePadding": 4}}}},
    {"data": {"name": "dash"},
     "mark": {"type": "line", "strokeWidth": 2, "strokeDash": [7, 5], "clip": true},
     "encoding": {
      "x": {"field": "T", "type": "quantitative", "axis": {"values": [20, 40, 60, 80, 100, 120], "labelOverlap": false, "format": "d", "tickSize": -4, "labelPadding": 6, "labelFontSize": 10, "title": "Teff (nK)", "titleFontSize": 11, "titlePadding": 3}},
      "y": {"field": "H", "type": "quantitative", "axis": {"values": [0, 0.2, 0.4, 0.6, 0.8, 1], "labelOverlap": false, "format": "~f", "tickSize": -4, "labelPadding": 6, "labelFontSize": 10, "title": "Hrec", "titleFontSize": 11, "titlePadding": 4}},
      "detail": {"field": "s"},
      "stroke": {"field": "s", "type": "nominal", "scale": {"domain": ["b", "r"], "range": ["#97a4e6", "#f08b8b"]}, "legend": null}}},
    {"data": {"name": "ptsC"},
     "mark": {"type": "errorbar", "ticks": true, "thickness": 1},
     "encoding": {
      "x": {"field": "xlo", "type": "quantitative", "axis": {"values": [20, 40, 60, 80, 100, 120], "labelOverlap": false, "format": "d", "tickSize": -4, "labelPadding": 6, "labelFontSize": 10, "title": "Teff (nK)", "titleFontSize": 11, "titlePadding": 3}},
      "x2": {"field": "xhi"},
      "y": {"field": "H", "type": "quantitative", "axis": {"values": [0, 0.2, 0.4, 0.6, 0.8, 1], "labelOverlap": false, "format": "~f", "tickSize": -4, "labelPadding": 6, "labelFontSize": 10, "title": "Hrec", "titleFontSize": 11, "titlePadding": 4}},
      "color": {"field": "s", "type": "nominal", "scale": {"domain": ["b", "r"], "range": ["#6574cf", "#f06060"]}, "legend": null}}},
    {"data": {"name": "ptsC"},
     "mark": {"type": "errorbar", "ticks": true, "thickness": 1},
     "encoding": {
      "x": {"field": "T", "type": "quantitative", "axis": {"values": [20, 40, 60, 80, 100, 120], "labelOverlap": false, "format": "d", "tickSize": -4, "labelPadding": 6, "labelFontSize": 10, "title": "Teff (nK)", "titleFontSize": 11, "titlePadding": 3}},
      "y": {"field": "ylo", "type": "quantitative", "axis": {"values": [0, 0.2, 0.4, 0.6, 0.8, 1], "labelOverlap": false, "format": "~f", "tickSize": -4, "labelPadding": 6, "labelFontSize": 10, "title": "Hrec", "titleFontSize": 11, "titlePadding": 4}},
      "y2": {"field": "yhi"},
      "color": {"field": "s", "type": "nominal", "scale": {"domain": ["b", "r"], "range": ["#6574cf", "#f06060"]}, "legend": null}}},
    {"data": {"name": "ptsC"},
     "mark": {"type": "circle", "size": 55, "opacity": 1},
     "encoding": {
      "x": {"field": "T", "type": "quantitative", "axis": {"values": [20, 40, 60, 80, 100, 120], "labelOverlap": false, "format": "d", "tickSize": -4, "labelPadding": 6, "labelFontSize": 10, "title": "Teff (nK)", "titleFontSize": 11, "titlePadding": 3}},
      "y": {"field": "H", "type": "quantitative", "axis": {"values": [0, 0.2, 0.4, 0.6, 0.8, 1], "labelOverlap": false, "format": "~f", "tickSize": -4, "labelPadding": 6, "labelFontSize": 10, "title": "Hrec", "titleFontSize": 11, "titlePadding": 4}},
      "fill": {"field": "s", "type": "nominal", "scale": {"domain": ["b", "r"], "range": ["#3446b8", "#ec3a3a"]}, "legend": null}}},
    {"data": {"values": [{}]},
     "mark": {"type": "text", "color": "#1d2c6b", "font": "Lato", "fontSize": 11, "lineHeight": 15},
     "encoding": {"x": {"datum": 109, "type": "quantitative", "axis": {"values": [20, 40, 60, 80, 100, 120], "labelOverlap": false, "format": "d", "tickSize": -4, "labelPadding": 6, "labelFontSize": 10, "title": "Teff (nK)", "titleFontSize": 11, "titlePadding": 3}},
                  "y": {"datum": 0.698, "type": "quantitative", "axis": {"values": [0, 0.2, 0.4, 0.6, 0.8, 1], "labelOverlap": false, "format": "~f", "tickSize": -4, "labelPadding": 6, "labelFontSize": 10, "title": "Hrec", "titleFontSize": 11, "titlePadding": 4}},
                  "text": {"value": ["Luttinger Liquid", "prediction"]}}},
    {"data": {"values": [{}]},
     "mark": {"type": "text", "color": "#7a35a8", "font": "Lato", "fontSize": 11, "lineHeight": 15},
     "encoding": {"x": {"datum": 115.3, "type": "quantitative", "axis": {"values": [20, 40, 60, 80, 100, 120], "labelOverlap": false, "format": "d", "tickSize": -4, "labelPadding": 6, "labelFontSize": 10, "title": "Teff (nK)", "titleFontSize": 11, "titlePadding": 3}},
                  "y": {"datum": 0.276, "type": "quantitative", "axis": {"values": [0, 0.2, 0.4, 0.6, 0.8, 1], "labelOverlap": false, "format": "~f", "tickSize": -4, "labelPadding": 6, "labelFontSize": 10, "title": "Hrec", "titleFontSize": 11, "titlePadding": 4}},
                  "text": {"value": ["S-GPE", "calculatio", "n"]}}}
   ]}
 ]}
]
}
